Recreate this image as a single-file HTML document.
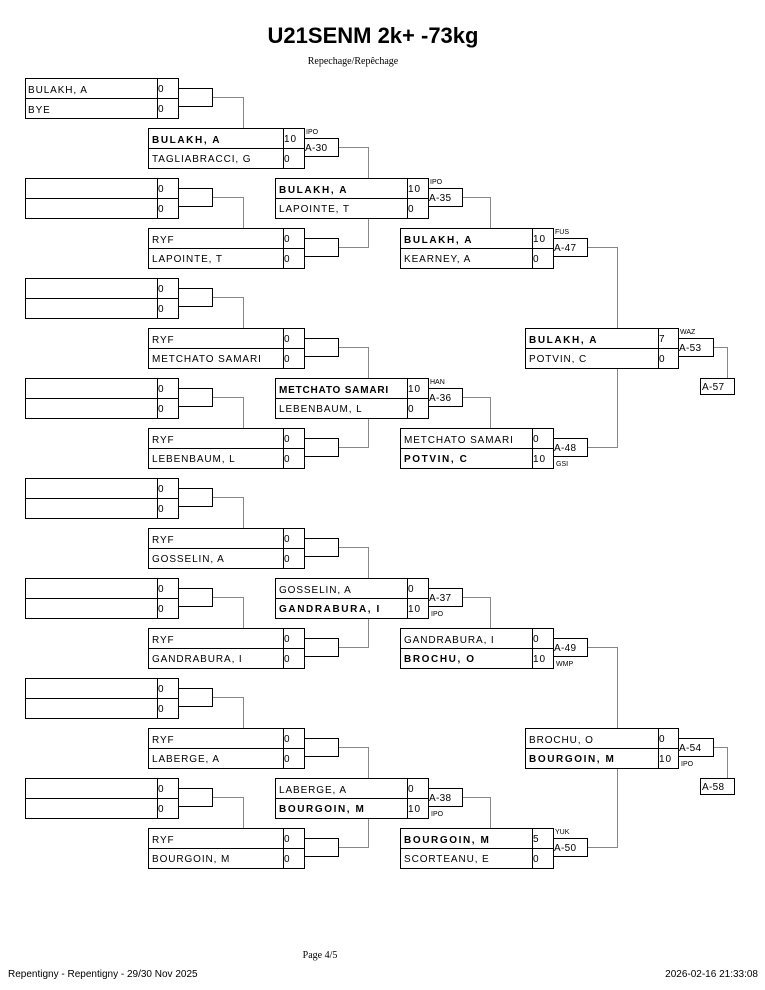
<!DOCTYPE html>
<html><head><meta charset="utf-8"><style>
body{margin:0;background:#fff}
svg{display:block}
text{font-family:"Liberation Sans",sans-serif;font-size:10px;letter-spacing:0.9px;fill:#000}
.b{font-weight:bold;letter-spacing:1.6px}
.s{font-size:7px;letter-spacing:0}
.r{fill:none;stroke:#000;stroke-width:1}
.l{fill:none;stroke:#888;stroke-width:1}
</style></head><body>
<svg width="765" height="990" viewBox="0 0 765 990" shape-rendering="crispEdges">
<text x="373" y="43" text-anchor="middle" style="font-size:22px;font-weight:bold;letter-spacing:0">U21SENM 2k+ -73kg</text>
<text x="353" y="64" text-anchor="middle" style="font-family:'Liberation Serif',serif;font-size:10px;letter-spacing:0">Repechage/Repêchage</text>
<text x="320" y="958" text-anchor="middle" style="font-family:'Liberation Serif',serif;font-size:10px;letter-spacing:0">Page 4/5</text>
<text x="8" y="977" style="letter-spacing:0">Repentigny - Repentigny - 29/30 Nov 2025</text>
<text x="758" y="977" text-anchor="end" style="letter-spacing:0">2026-02-16 21:33:08</text>

<!-- connector lines -->
<g class="l">
<path d="M212.5 97.5H243.5V128"/><path d="M212.5 197.5H243.5V228"/><path d="M212.5 297.5H243.5V328"/><path d="M212.5 397.5H243.5V428"/>
<path d="M212.5 497.5H243.5V528"/><path d="M212.5 597.5H243.5V628"/><path d="M212.5 697.5H243.5V728"/><path d="M212.5 797.5H243.5V828"/>
<path d="M338.5 147.5H368.5V178"/><path d="M338.5 247.5H368.5V218"/><path d="M338.5 347.5H368.5V378"/><path d="M338.5 447.5H368.5V418"/>
<path d="M338.5 547.5H368.5V578"/><path d="M338.5 647.5H368.5V618"/><path d="M338.5 747.5H368.5V778"/><path d="M338.5 847.5H368.5V818"/>
<path d="M462.5 197.5H490.5V228"/><path d="M462.5 397.5H490.5V428"/><path d="M462.5 597.5H490.5V628"/><path d="M462.5 797.5H490.5V828"/>
<path d="M587.5 247.5H617.5V328"/><path d="M587.5 447.5H617.5V368"/><path d="M587.5 647.5H617.5V728"/><path d="M587.5 847.5H617.5V768"/>
<path d="M713.5 347.5H727.5V378"/><path d="M713.5 747.5H727.5V778"/>
</g>

<!-- col1 -->
<g class="r">
<rect x="25.5" y="78.5" width="153" height="40"/><path d="M25 98.5H178M157.5 78V118"/><rect x="178.5" y="88.5" width="34" height="18"/>
<rect x="25.5" y="178.5" width="153" height="40"/><path d="M25 198.5H178M157.5 178V218"/><rect x="178.5" y="188.5" width="34" height="18"/>
<rect x="25.5" y="278.5" width="153" height="40"/><path d="M25 298.5H178M157.5 278V318"/><rect x="178.5" y="288.5" width="34" height="18"/>
<rect x="25.5" y="378.5" width="153" height="40"/><path d="M25 398.5H178M157.5 378V418"/><rect x="178.5" y="388.5" width="34" height="18"/>
<rect x="25.5" y="478.5" width="153" height="40"/><path d="M25 498.5H178M157.5 478V518"/><rect x="178.5" y="488.5" width="34" height="18"/>
<rect x="25.5" y="578.5" width="153" height="40"/><path d="M25 598.5H178M157.5 578V618"/><rect x="178.5" y="588.5" width="34" height="18"/>
<rect x="25.5" y="678.5" width="153" height="40"/><path d="M25 698.5H178M157.5 678V718"/><rect x="178.5" y="688.5" width="34" height="18"/>
<rect x="25.5" y="778.5" width="153" height="40"/><path d="M25 798.5H178M157.5 778V818"/><rect x="178.5" y="788.5" width="34" height="18"/>
</g>
<text x="28" y="93">BULAKH, A</text><text x="28" y="113">BYE</text>
<g>
<text x="158" y="92">0</text><text x="158" y="112">0</text>
<text x="158" y="192">0</text><text x="158" y="212">0</text>
<text x="158" y="292">0</text><text x="158" y="312">0</text>
<text x="158" y="392">0</text><text x="158" y="412">0</text>
<text x="158" y="492">0</text><text x="158" y="512">0</text>
<text x="158" y="592">0</text><text x="158" y="612">0</text>
<text x="158" y="692">0</text><text x="158" y="712">0</text>
<text x="158" y="792">0</text><text x="158" y="812">0</text>
</g>

<!-- col2 -->
<g class="r">
<rect x="148.5" y="128.5" width="156" height="40"/><path d="M148 148.5H304M283.5 128V168"/><rect x="304.5" y="138.5" width="34" height="18"/>
<rect x="148.5" y="228.5" width="156" height="40"/><path d="M148 248.5H304M283.5 228V268"/><rect x="304.5" y="238.5" width="34" height="18"/>
<rect x="148.5" y="328.5" width="156" height="40"/><path d="M148 348.5H304M283.5 328V368"/><rect x="304.5" y="338.5" width="34" height="18"/>
<rect x="148.5" y="428.5" width="156" height="40"/><path d="M148 448.5H304M283.5 428V468"/><rect x="304.5" y="438.5" width="34" height="18"/>
<rect x="148.5" y="528.5" width="156" height="40"/><path d="M148 548.5H304M283.5 528V568"/><rect x="304.5" y="538.5" width="34" height="18"/>
<rect x="148.5" y="628.5" width="156" height="40"/><path d="M148 648.5H304M283.5 628V668"/><rect x="304.5" y="638.5" width="34" height="18"/>
<rect x="148.5" y="728.5" width="156" height="40"/><path d="M148 748.5H304M283.5 728V768"/><rect x="304.5" y="738.5" width="34" height="18"/>
<rect x="148.5" y="828.5" width="156" height="40"/><path d="M148 848.5H304M283.5 828V868"/><rect x="304.5" y="838.5" width="34" height="18"/>
</g>
<text class="b" x="152" y="143">BULAKH, A</text><text x="152" y="162">TAGLIABRACCI, G</text><text x="284" y="142">10</text><text x="284" y="162">0</text>
<text class="s" x="306" y="134">IPO</text><text x="305" y="151" style="letter-spacing:0.3px">A-30</text>
<text x="152" y="243">RYF</text><text x="152" y="262">LAPOINTE, T</text><text x="284" y="242">0</text><text x="284" y="262">0</text>
<text x="152" y="343">RYF</text><text x="152" y="362">METCHATO SAMARI</text><text x="284" y="342">0</text><text x="284" y="362">0</text>
<text x="152" y="443">RYF</text><text x="152" y="462">LEBENBAUM, L</text><text x="284" y="442">0</text><text x="284" y="462">0</text>
<text x="152" y="543">RYF</text><text x="152" y="562">GOSSELIN, A</text><text x="284" y="542">0</text><text x="284" y="562">0</text>
<text x="152" y="643">RYF</text><text x="152" y="662">GANDRABURA, I</text><text x="284" y="642">0</text><text x="284" y="662">0</text>
<text x="152" y="743">RYF</text><text x="152" y="762">LABERGE, A</text><text x="284" y="742">0</text><text x="284" y="762">0</text>
<text x="152" y="843">RYF</text><text x="152" y="862">BOURGOIN, M</text><text x="284" y="842">0</text><text x="284" y="862">0</text>

<!-- col3 -->
<g class="r">
<rect x="275.5" y="178.5" width="153" height="40"/><path d="M275 198.5H428M407.5 178V218"/><rect x="428.5" y="188.5" width="34" height="18"/>
<rect x="275.5" y="378.5" width="153" height="40"/><path d="M275 398.5H428M407.5 378V418"/><rect x="428.5" y="388.5" width="34" height="18"/>
<rect x="275.5" y="578.5" width="153" height="40"/><path d="M275 598.5H428M407.5 578V618"/><rect x="428.5" y="588.5" width="34" height="18"/>
<rect x="275.5" y="778.5" width="153" height="40"/><path d="M275 798.5H428M407.5 778V818"/><rect x="428.5" y="788.5" width="34" height="18"/>
</g>
<text class="b" x="279" y="193">BULAKH, A</text><text x="279" y="212">LAPOINTE, T</text><text x="408" y="192">10</text><text x="408" y="212">0</text>
<text class="s" x="430" y="184">IPO</text><text x="429" y="201" style="letter-spacing:0.3px">A-35</text>
<text class="b" x="279" y="393" style="letter-spacing:0.8px">METCHATO SAMARI</text><text x="279" y="412">LEBENBAUM, L</text><text x="408" y="392">10</text><text x="408" y="412">0</text>
<text class="s" x="430" y="384">HAN</text><text x="429" y="401" style="letter-spacing:0.3px">A-36</text>
<text x="279" y="593">GOSSELIN, A</text><text class="b" x="279" y="612">GANDRABURA, I</text><text x="408" y="592">0</text><text x="408" y="612">10</text>
<text x="429" y="601" style="letter-spacing:0.3px">A-37</text><text class="s" x="431" y="616">IPO</text>
<text x="279" y="793">LABERGE, A</text><text class="b" x="279" y="812">BOURGOIN, M</text><text x="408" y="792">0</text><text x="408" y="812">10</text>
<text x="429" y="801" style="letter-spacing:0.3px">A-38</text><text class="s" x="431" y="816">IPO</text>

<!-- col4 -->
<g class="r">
<rect x="400.5" y="228.5" width="153" height="40"/><path d="M400 248.5H553M532.5 228V268"/><rect x="553.5" y="238.5" width="34" height="18"/>
<rect x="400.5" y="428.5" width="153" height="40"/><path d="M400 448.5H553M532.5 428V468"/><rect x="553.5" y="438.5" width="34" height="18"/>
<rect x="400.5" y="628.5" width="153" height="40"/><path d="M400 648.5H553M532.5 628V668"/><rect x="553.5" y="638.5" width="34" height="18"/>
<rect x="400.5" y="828.5" width="153" height="40"/><path d="M400 848.5H553M532.5 828V868"/><rect x="553.5" y="838.5" width="34" height="18"/>
</g>
<text class="b" x="404" y="243">BULAKH, A</text><text x="404" y="262">KEARNEY, A</text><text x="533" y="242">10</text><text x="533" y="262">0</text>
<text class="s" x="555" y="234">FUS</text><text x="554" y="251" style="letter-spacing:0.3px">A-47</text>
<text x="404" y="443">METCHATO SAMARI</text><text class="b" x="404" y="462">POTVIN, C</text><text x="533" y="442">0</text><text x="533" y="462">10</text>
<text x="554" y="451" style="letter-spacing:0.3px">A-48</text><text class="s" x="556" y="466">GSI</text>
<text x="404" y="643">GANDRABURA, I</text><text class="b" x="404" y="662">BROCHU, O</text><text x="533" y="642">0</text><text x="533" y="662">10</text>
<text x="554" y="651" style="letter-spacing:0.3px">A-49</text><text class="s" x="556" y="666">WMP</text>
<text class="b" x="404" y="843">BOURGOIN, M</text><text x="404" y="862">SCORTEANU, E</text><text x="533" y="842">5</text><text x="533" y="862">0</text>
<text class="s" x="555" y="834">YUK</text><text x="554" y="851" style="letter-spacing:0.3px">A-50</text>

<!-- col5 -->
<g class="r">
<rect x="525.5" y="328.5" width="153" height="40"/><path d="M525 348.5H678M658.5 328V368"/><rect x="678.5" y="338.5" width="35" height="18"/>
<rect x="525.5" y="728.5" width="153" height="40"/><path d="M525 748.5H678M658.5 728V768"/><rect x="678.5" y="738.5" width="35" height="18"/>
<rect x="700.5" y="378.5" width="34" height="16"/>
<rect x="700.5" y="778.5" width="34" height="16"/>
</g>
<text class="b" x="529" y="343">BULAKH, A</text><text x="529" y="362">POTVIN, C</text><text x="659" y="342">7</text><text x="659" y="362">0</text>
<text class="s" x="680" y="334">WAZ</text><text x="679" y="351" style="letter-spacing:0.3px">A-53</text>
<text x="529" y="743">BROCHU, O</text><text class="b" x="529" y="762">BOURGOIN, M</text><text x="659" y="742">0</text><text x="659" y="762">10</text>
<text x="679" y="751" style="letter-spacing:0.3px">A-54</text><text class="s" x="681" y="766">IPO</text>
<text x="702" y="390" style="letter-spacing:0.3px">A-57</text>
<text x="702" y="790" style="letter-spacing:0.3px">A-58</text>
</svg>
</body></html>
